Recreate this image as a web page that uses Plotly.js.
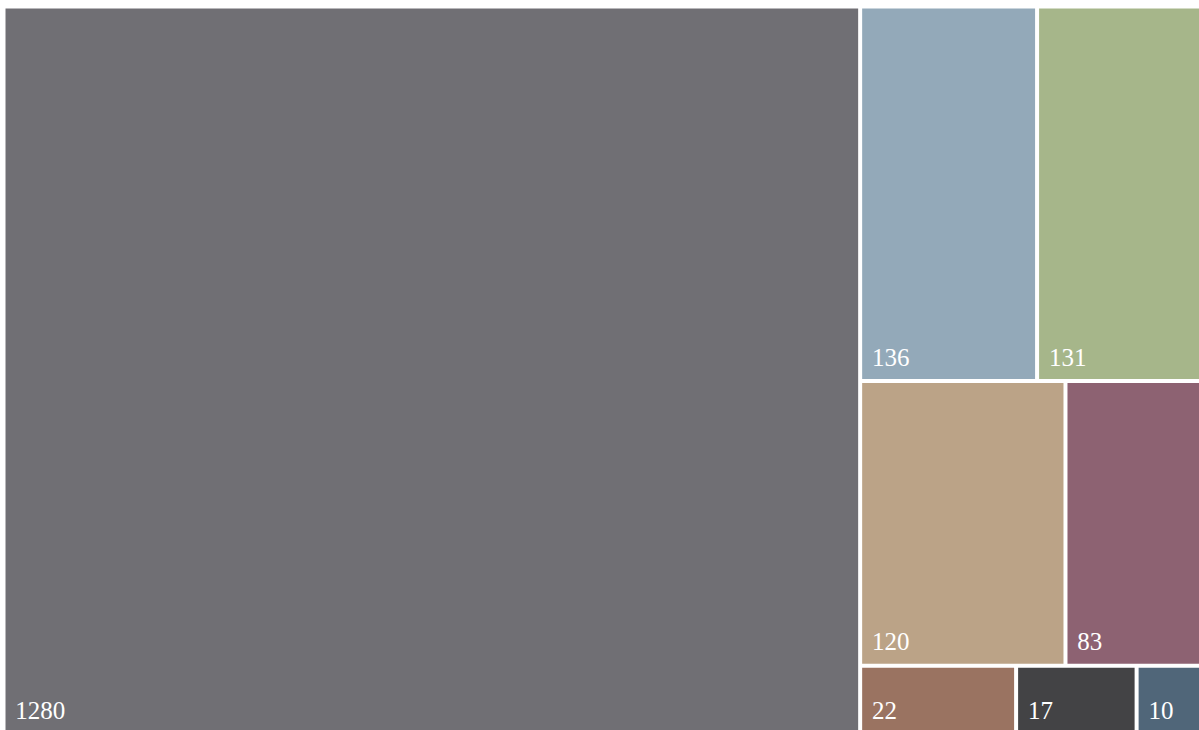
<!DOCTYPE html>
<html>
<head>
<meta charset="utf-8">
<script src="https://cdn.plot.ly/plotly-3.0.1.min.js"></script>
<style>html,body{margin:0;padding:0;background:#fff;overflow:hidden;}#chart{width:1207px;height:734px;}</style>
</head>
<body>
<div id="chart"></div>
<script>
const labels = ["A", "B", "C", "D", "E", "F", "G", "H"];
const parents = ["", "", "", "", "", "", "", ""];
const values = [1280, 136, 131, 120, 83, 22, 17, 10];
const colors = ["#706F74", "#93A9B9", "#A6B68A", "#BBA387", "#8D6272", "#9A7361", "#434345", "#506679"];

const trace = {
  type: "treemap",
  labels: labels,
  parents: parents,
  values: values,
  text: values.map(String),
  texttemplate: "\u00a0\u200a%{text}<sub><sub>\u00a0</sub></sub>",
  textposition: "bottom left",
  textfont: {family: "Liberation Serif, DejaVu Serif, serif", size: 25, color: "#ffffff"},
  marker: {colors: colors, line: {color: "#ffffff", width: 3}, pad: {t: 0, l: 0, r: 0, b: 0}},
  tiling: {squarifyratio: 1.618034, pad: 1},
  pathbar: {visible: false},
  hoverinfo: "skip",
  sort: true
};

const layout = {
  width: 1207, height: 734,
  margin: {l: 4, r: 0, t: 7, b: 0},
  paper_bgcolor: "#ffffff",
  showlegend: false
};
Plotly.newPlot("chart", [trace], layout, {displayModeBar: false, staticPlot: true});
</script>
</body>
</html>
